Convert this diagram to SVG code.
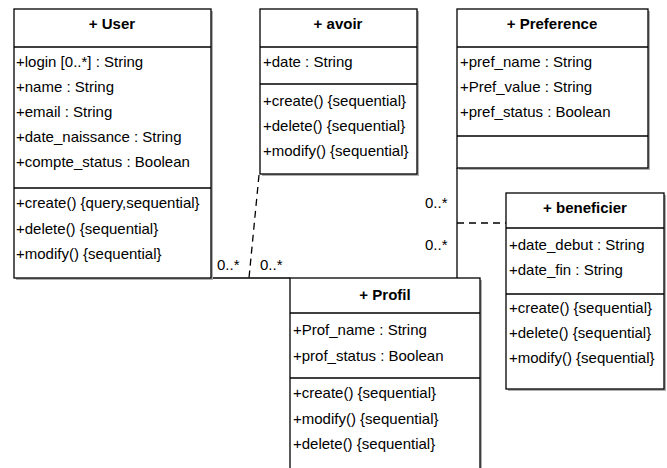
<svg xmlns="http://www.w3.org/2000/svg" width="667" height="468" viewBox="0 0 667 468">
<style>
text{font-family:"Liberation Sans",Arial,sans-serif;font-size:15px;fill:#000}
.t{font-weight:bold;text-anchor:middle}
.box{fill:#fff;stroke:#000;stroke-width:1.3}
.sh{fill:#b0b0b0}
.sep{stroke:#000;stroke-width:1.3}
.ln{stroke:#000;stroke-width:1.3;fill:none}
.dash{stroke:#000;stroke-width:1.3;fill:none;stroke-dasharray:7,5}
</style>
<rect width="667" height="468" fill="#fff"/>
<g id="connectors">
<line class="ln" x1="211" y1="278" x2="290" y2="278"/>
<line class="ln" x1="457" y1="168" x2="457" y2="278"/>
<line class="dash" x1="259" y1="175" x2="249" y2="278"/>
<line class="dash" x1="457" y1="223" x2="506" y2="223"/>
<text x="217" y="270">0..*</text>
<text x="260" y="270">0..*</text>
<text x="425" y="208">0..*</text>
<text x="425" y="250">0..*</text>
</g>
<g id="User">
<rect class="sh" x="16" y="11" width="197" height="269"/>
<rect class="box" x="14" y="9" width="197" height="269"/>
<line class="sep" x1="14" y1="47" x2="211" y2="47"/>
<line class="sep" x1="14" y1="188" x2="211" y2="188"/>
<text class="t" x="112" y="29">+ User</text>
<text x="16" y="67">+login [0..*] : String</text>
<text x="16" y="92">+name : String</text>
<text x="16" y="117">+email : String</text>
<text x="16" y="142">+date_naissance : String</text>
<text x="16" y="167">+compte_status : Boolean</text>
<text x="16" y="208">+create() {query,sequential}</text>
<text x="16" y="234">+delete() {sequential}</text>
<text x="16" y="259">+modify() {sequential}</text>
</g>
<g id="avoir">
<rect class="sh" x="262" y="11" width="157" height="165"/>
<rect class="box" x="260" y="9" width="157" height="165"/>
<line class="sep" x1="260" y1="47" x2="417" y2="47"/>
<line class="sep" x1="260" y1="84" x2="417" y2="84"/>
<text class="t" x="338" y="29">+ avoir</text>
<text x="263" y="67">+date : String</text>
<text x="263" y="106">+create() {sequential}</text>
<text x="263" y="131">+delete() {sequential}</text>
<text x="263" y="156">+modify() {sequential}</text>
</g>
<g id="Preference">
<rect class="sh" x="459" y="11" width="191" height="159"/>
<rect class="box" x="457" y="9" width="191" height="159"/>
<line class="sep" x1="457" y1="47" x2="648" y2="47"/>
<line class="sep" x1="457" y1="136" x2="648" y2="136"/>
<text class="t" x="552" y="29">+ Preference</text>
<text x="460" y="67">+pref_name : String</text>
<text x="460" y="92">+Pref_value : String</text>
<text x="460" y="117">+pref_status : Boolean</text>
</g>
<g id="beneficier">
<rect class="sh" x="508" y="195" width="158" height="196"/>
<rect class="box" x="506" y="193" width="158" height="196"/>
<line class="sep" x1="506" y1="228" x2="664" y2="228"/>
<line class="sep" x1="506" y1="294" x2="664" y2="294"/>
<text class="t" x="585" y="213">+ beneficier</text>
<text x="509" y="250">+date_debut : String</text>
<text x="509" y="275">+date_fin : String</text>
<text x="509" y="313">+create() {sequential}</text>
<text x="509" y="338">+delete() {sequential}</text>
<text x="509" y="363">+modify() {sequential}</text>
</g>
<g id="Profil">
<rect class="sh" x="292" y="280" width="190" height="200"/>
<rect class="box" x="290" y="278" width="190" height="200"/>
<line class="sep" x1="290" y1="313" x2="480" y2="313"/>
<line class="sep" x1="290" y1="378" x2="480" y2="378"/>
<text class="t" x="385" y="300">+ Profil</text>
<text x="293" y="335">+Prof_name : String</text>
<text x="293" y="361">+prof_status : Boolean</text>
<text x="293" y="398">+create() {sequential}</text>
<text x="293" y="424">+modify() {sequential}</text>
<text x="293" y="449">+delete() {sequential}</text>
</g>
</svg>
